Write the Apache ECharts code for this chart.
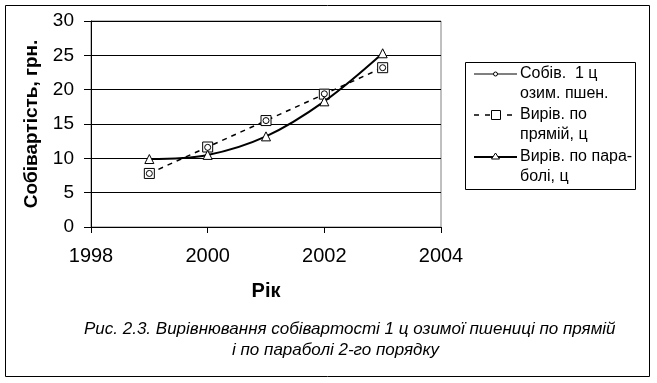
<!DOCTYPE html>
<html>
<head>
<meta charset="utf-8">
<script src="https://cdn.jsdelivr.net/npm/echarts@6/dist/echarts.min.js"></script>
<style>
html,body{margin:0;padding:0;background:#fff;}
#c{width:657px;height:383px;}
</style>
</head>
<body>
<div id="c"></div>
<script>
var years = [1999, 2000, 2001, 2002, 2003];
var actualCost = [7.8, 11.6, 15.5, 19.4, 23.2];
var linearFit = [7.8, 11.65, 15.5, 19.35, 23.2];
var parabolaFit = [9.9, 10.5, 13.2, 18.3, 25.3];
var seriesNames = ['Собів.  1 ц\nозим. пшен.', 'Вирів. по\nпрямій, ц', 'Вирів. по пара-\nболі, ц'];
var yTitle = 'Собівартість, грн.';
var xTitle = 'Рік';
var caption = ['Рис. 2.3. Вирівнювання собівартості 1 ц озимої пшениці по прямій', 'і по параболі 2-го порядку'];

function pairs(vals){ return years.map(function(y,i){ return [y, vals[i]]; }); }

var FONT = 'Liberation Sans, Arial, sans-serif';
var chart = echarts.init(document.getElementById('c'), null, {renderer:'canvas'});

var legTop = [64, 105, 147];
var iconY = [74, 115, 157];
var legendGraphics = [
  {type:'rect', shape:{x:465.5, y:62.5, width:170, height:127}, style:{fill:'#fff', stroke:'#000', lineWidth:1}, z:50},
  {type:'line', shape:{x1:474, y1:iconY[0], x2:517, y2:iconY[0]}, style:{stroke:'#000', lineWidth:1}, z:51},
  {type:'circle', shape:{cx:495.5, cy:iconY[0], r:2}, style:{fill:'#fff', stroke:'#000', lineWidth:1}, z:52},
  {type:'line', shape:{x1:474, y1:iconY[1], x2:517, y2:iconY[1]}, style:{stroke:'#000', lineWidth:1.5, lineDash:[5,6]}, z:51},
  {type:'rect', shape:{x:491.5, y:iconY[1]-4.5, width:9, height:9}, style:{fill:'#fff', stroke:'#000', lineWidth:1}, z:52},
  {type:'line', shape:{x1:474, y1:iconY[2], x2:517, y2:iconY[2]}, style:{stroke:'#000', lineWidth:2}, z:51},
  {type:'polygon', shape:{points:[[495.5,iconY[2]-4],[491.5,iconY[2]+2],[499.5,iconY[2]+2]]}, style:{fill:'#fff', stroke:'#000', lineWidth:1}, z:52}
];
seriesNames.forEach(function(n,i){
  legendGraphics.push({type:'text', left:520, top:legTop[i], z:53,
    style:{text:n, fontSize:16, fontFamily:FONT, fill:'#000', lineHeight:20}});
});

var option = {
  animation:false,
  backgroundColor:'#fff',
  grid:{left:91, right:216, top:21, bottom:156, show:true, borderColor:'#808080', borderWidth:1},
  xAxis:{
    type:'value', min:1998, max:2004, interval:2,
    axisLine:{lineStyle:{color:'#000', width:1}},
    axisTick:{show:true, length:6, lineStyle:{color:'#000'}},
    axisLabel:{fontSize:20, color:'#000', fontFamily:FONT, margin:19, formatter:function(v){return String(v);}},
    splitLine:{show:false},
    name:xTitle, nameLocation:'middle', nameGap:54,
    nameTextStyle:{fontSize:20, fontWeight:'bold', color:'#000', fontFamily:FONT}
  },
  yAxis:{
    type:'value', min:0, max:30, interval:5,
    axisLine:{show:true, lineStyle:{color:'#000', width:1}},
    axisTick:{show:true, length:7, lineStyle:{color:'#000'}},
    axisLabel:{fontSize:19, color:'#000', fontFamily:FONT, margin:17},
    splitLine:{show:true, lineStyle:{color:'#000', width:1}},
    name:yTitle, nameLocation:'middle', nameGap:50, nameRotate:90,
    nameTextStyle:{fontSize:19, fontWeight:'bold', color:'#000', fontFamily:FONT}
  },
  series:[
    {
      name:seriesNames[1], type:'line', data:pairs(linearFit), z:3,
      symbol:'rect', symbolSize:10, showSymbol:true,
      lineStyle:{color:'#000', width:1.5, type:[5,5]},
      itemStyle:{color:'#fff', borderColor:'#000', borderWidth:1}
    },
    {
      name:seriesNames[0], type:'line', data:pairs(actualCost), z:4,
      symbol:'circle', symbolSize:6, showSymbol:true,
      lineStyle:{color:'#000', width:1, opacity:0},
      itemStyle:{color:'#fff', borderColor:'#000', borderWidth:1}
    },
    {
      name:seriesNames[2], type:'line', data:pairs(parabolaFit), z:5, smooth:0.35,
      symbol:'triangle', symbolSize:9, showSymbol:true,
      lineStyle:{color:'#000', width:2},
      itemStyle:{color:'#fff', borderColor:'#000', borderWidth:1}
    }
  ],
  graphic: [
    {type:'rect', shape:{x:5.5, y:5.5, width:644, height:371}, style:{fill:'none', stroke:'#000', lineWidth:1}, z:40, silent:true},
    {type:'text', left:84, top:321, style:{text:caption[0], fontSize:17, fontStyle:'italic', fontFamily:FONT, fill:'#000'}},
    {type:'text', left:232, top:342, style:{text:caption[1], fontSize:17, fontStyle:'italic', fontFamily:FONT, fill:'#000'}}
  ].concat(legendGraphics)
};
chart.setOption(option);
</script>
</body>
</html>
